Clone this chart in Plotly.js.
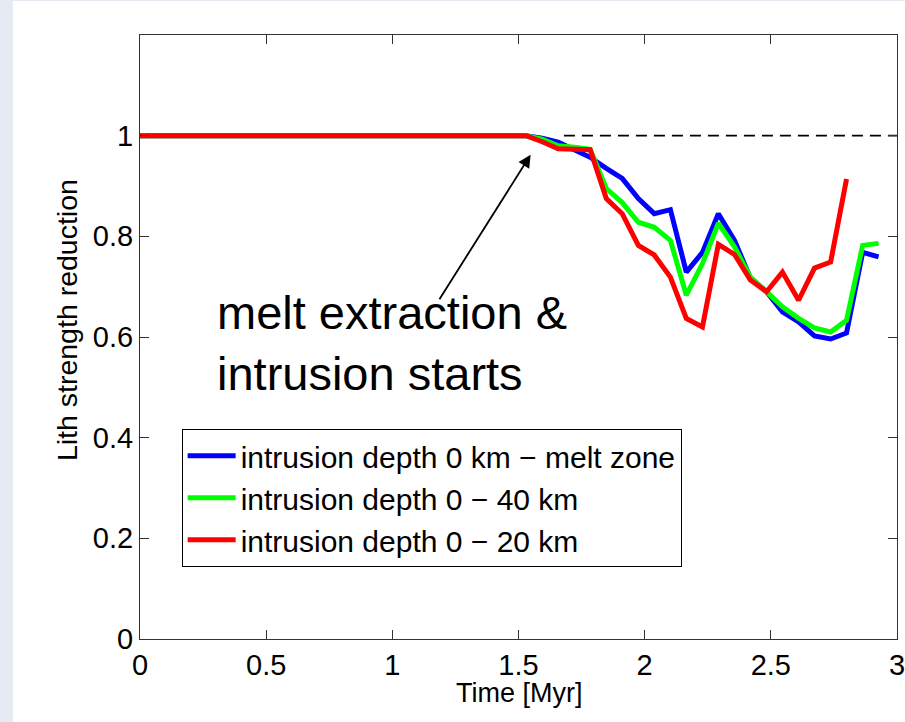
<!DOCTYPE html>
<html>
<head>
<meta charset="utf-8">
<script src="https://cdn.plot.ly/plotly-3.0.1.min.js"></script>
<style>
  html, body { margin: 0; padding: 0; background: #e4ebf3; width: 905px; height: 722px; overflow: hidden; }
  #chart { position: absolute; left: 13px; top: 1px; width: 892px; height: 721px; background: #ffffff; }
</style>
</head>
<body>
<div id="chart"></div>
<script>
// Time [Myr]
const timeAll = [0, 1.530, 1.594, 1.657, 1.721, 1.784, 1.848, 1.911, 1.975, 2.038, 2.102, 2.165, 2.229,
                 2.292, 2.356, 2.419, 2.483, 2.546, 2.610, 2.673, 2.737, 2.800, 2.864, 2.927];
const timeRed = [0, 1.530, 1.594, 1.657, 1.721, 1.784, 1.848, 1.911, 1.975, 2.038, 2.102, 2.165, 2.229,
                 2.292, 2.356, 2.419, 2.483, 2.546, 2.610, 2.673, 2.737, 2.800];

const blueVals  = [1.0, 1.0, 0.995, 0.987, 0.972, 0.957, 0.935, 0.915, 0.875, 0.845, 0.853, 0.729, 0.768,
                   0.845, 0.792, 0.717, 0.690, 0.650, 0.630, 0.602, 0.596, 0.608, 0.768, 0.759];
const greenVals = [1.0, 1.0, 0.993, 0.980, 0.977, 0.973, 0.895, 0.867, 0.828, 0.818, 0.792, 0.683, 0.746,
                   0.826, 0.779, 0.719, 0.690, 0.660, 0.637, 0.618, 0.610, 0.633, 0.782, 0.786];
const redVals   = [1.0, 1.0, 0.988, 0.974, 0.973, 0.972, 0.875, 0.845, 0.782, 0.763, 0.719, 0.637, 0.620,
                   0.784, 0.764, 0.713, 0.690, 0.729, 0.673, 0.737, 0.749, 0.914];

const refTime = [1.68, 3.0];
const refVals = [1.0, 1.0];

const seriesNames = ["intrusion depth 0 km \u2212 melt zone", "intrusion depth 0 \u2212 40 km", "intrusion depth 0 \u2212 20 km"];
const seriesColors = ["#0000ff", "#00ff00", "#ff0000"];

const xTicks = [0, 0.5, 1, 1.5, 2, 2.5, 3];
const xTickText = ["0", "0.5", "1", "1.5", "2", "2.5", "3"];
const yTicks = [0, 0.2, 0.4, 0.6, 0.8, 1];
const yTickText = ["0", "0.2", "0.4", "0.6", "0.8", "1"];

const FONT = "Liberation Sans, Arial, Helvetica, sans-serif";

const traces = [
  { x: refTime, y: refVals, mode: "lines", showlegend: false, hoverinfo: "skip",
    line: { color: "#000000", width: 1.6, dash: "11px,7px" } },
  { x: timeAll, y: blueVals, mode: "lines", name: seriesNames[0],
    line: { color: seriesColors[0], width: 5 } },
  { x: timeAll, y: greenVals, mode: "lines", name: seriesNames[1],
    line: { color: seriesColors[1], width: 5 } },
  { x: timeRed, y: redVals, mode: "lines", name: seriesNames[2],
    line: { color: seriesColors[2], width: 5 } }
];

const axisCommon = {
  showline: true, linecolor: "#333333", linewidth: 1, mirror: "ticks",
  ticks: "inside", ticklen: 9, tickcolor: "#333333", tickwidth: 1,
  showgrid: false, zeroline: false, ticklabeloverflow: "allow",
  tickfont: { family: FONT, size: 29, color: "#000000" }
};

const layout = {
  width: 892, height: 721,
  margin: { l: 127, r: 8, t: 34, b: 83 },
  paper_bgcolor: "#ffffff", plot_bgcolor: "#ffffff",
  font: { family: FONT, color: "#000000" },
  xaxis: Object.assign({}, axisCommon, {
    range: [0, 3], tickvals: xTicks, ticktext: xTickText
  }),
  yaxis: Object.assign({}, axisCommon, {
    range: [0, 1.2], tickvals: yTicks, ticktext: yTickText
  }),
  legend: {
    x: 0.055, y: 0.348, xanchor: "left", yanchor: "top",
    bgcolor: "#ffffff", bordercolor: "#000000", borderwidth: 1,
    font: { family: FONT, size: 30, color: "#000000" },
    tracegroupgap: 0, itemwidth: 48
  },
  annotations: [
    { x: 0.5, y: -0.09, xref: "paper", yref: "paper", xanchor: "center", yanchor: "middle",
      text: "Time [Myr]", showarrow: false,
      font: { family: FONT, size: 27, color: "#000000" } },
    { x: -0.0964, y: 0.528, xref: "paper", yref: "paper", xanchor: "center", yanchor: "middle",
      text: "Lith strength reduction", textangle: -90, showarrow: false,
      font: { family: FONT, size: 28.5, color: "#000000" } },
    { x: 1.548, y: 0.962, xref: "x", yref: "y", ax: 1.183, ay: 0.672, axref: "x", ayref: "y",
      text: "", showarrow: true, arrowhead: 2, arrowsize: 1.4, arrowwidth: 1.8, arrowcolor: "#000000" },
    { x: 0.298, y: 0.588, xref: "x", yref: "y", xanchor: "left", yanchor: "middle", align: "left",
      text: "melt extraction &amp;<br>intrusion starts", showarrow: false,
      font: { family: FONT, size: 47, color: "#000000" } }
  ]
};

Plotly.newPlot("chart", traces, layout, { displayModeBar: false, staticPlot: true });
</script>
</body>
</html>
